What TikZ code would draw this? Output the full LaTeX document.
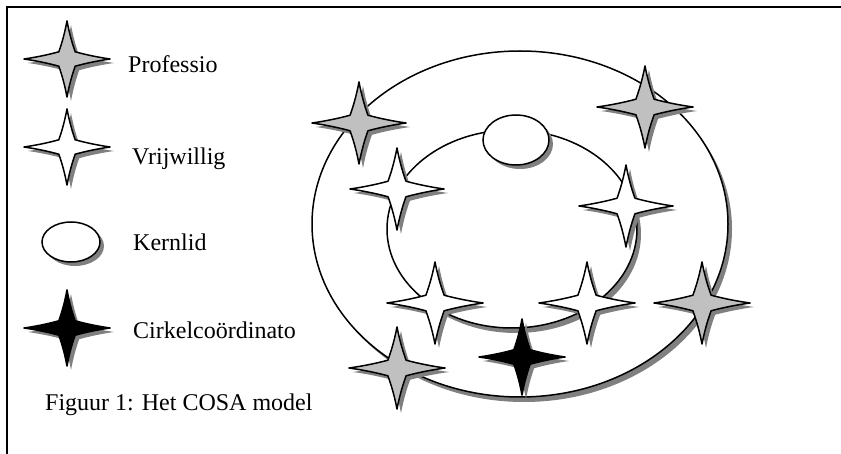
\documentclass[tikz,border=0pt]{standalone}
\usepackage{fontspec}
\setmainfont{Liberation Serif}
\definecolor{shadowgray}{RGB}{128,128,128}
\definecolor{profgray}{RGB}{192,192,192}
\newcommand\fourstar[5]{%
  \fill[shadowgray] \starpath{#1+4}{#2+4}{#3}{#4};
  \filldraw[starline,fill=#5] \starpath{#1}{#2}{#3}{#4};
}
\newcommand\starpath[4]{%
  ({#1},{#2-#4})
  .. controls ({#1+0.045*#3},{#2-0.73*#4}) and ({#1+0.105*#3},{#2-0.46*#4}) .. ({#1+0.19*#3},{#2-0.19*#4})
  .. controls ({#1+0.46*#3},{#2-0.105*#4}) and ({#1+0.73*#3},{#2-0.045*#4}) .. ({#1+#3},{#2})
  .. controls ({#1+0.73*#3},{#2+0.045*#4}) and ({#1+0.46*#3},{#2+0.105*#4}) .. ({#1+0.19*#3},{#2+0.19*#4})
  .. controls ({#1+0.105*#3},{#2+0.46*#4}) and ({#1+0.045*#3},{#2+0.73*#4}) .. ({#1},{#2+#4})
  .. controls ({#1-0.045*#3},{#2+0.73*#4}) and ({#1-0.105*#3},{#2+0.46*#4}) .. ({#1-0.19*#3},{#2+0.19*#4})
  .. controls ({#1-0.46*#3},{#2+0.105*#4}) and ({#1-0.73*#3},{#2+0.045*#4}) .. ({#1-#3},{#2})
  .. controls ({#1-0.73*#3},{#2-0.045*#4}) and ({#1-0.46*#3},{#2-0.105*#4}) .. ({#1-0.19*#3},{#2-0.19*#4})
  .. controls ({#1-0.105*#3},{#2-0.46*#4}) and ({#1-0.045*#3},{#2-0.73*#4}) .. cycle
}
\tikzset{
  starline/.style={draw=black,line width=1.5pt,line join=round},
  ringline/.style={draw=black,line width=1.5pt,fill=white},
  label/.style={anchor=base west,inner sep=0pt,font=\fontsize{24}{28}\selectfont}
}
\begin{document}
\begin{tikzpicture}[x=1pt,y=-1pt]
\useasboundingbox (0,0) rectangle (841,454);
\fill[white] (0,0) rectangle (841,454);
% frame
\draw[line width=2pt] (7,454) -- (7,7) -- (841,7);
% outer ring
\fill[shadowgray] (524,229) ellipse [x radius=208pt, y radius=173pt];
\path[ringline] (520,224) ellipse [x radius=208pt, y radius=173pt];
% inner ring
\fill[shadowgray] (516,234) ellipse [x radius=125pt, y radius=99pt];
\path[ringline] (512,229) ellipse [x radius=125pt, y radius=99pt];
% core member oval
\fill[shadowgray] (520,144) ellipse [x radius=33pt, y radius=25pt];
\path[ringline] (516,140) ellipse [x radius=33pt, y radius=25pt];
% stars in the model
\fourstar{359}{123}{47}{41}{profgray}
\fourstar{645}{107}{48}{41}{profgray}
\fourstar{397}{189}{47}{41}{white}
\fourstar{626}{206}{47}{41}{white}
\fourstar{435}{303}{48}{41}{white}
\fourstar{587}{303}{48}{41}{white}
\fourstar{702}{303}{48}{41}{profgray}
\fourstar{397}{368}{48}{41}{profgray}
\fourstar{522}{357}{43}{38}{black}
% legend
\fourstar{67}{59}{43}{38}{profgray}
\fourstar{67}{147}{43}{38}{white}
\fill[shadowgray] (75,246) ellipse [x radius=29pt, y radius=20pt];
\path[ringline] (71,242) ellipse [x radius=29pt, y radius=20pt];
\fourstar{67}{328}{43}{38}{black}
\node[label] (prof) at (128,73) {Professio};
\node[label] (vrij) at (132,165) {Vrijwillig};
\node[label] (kern) at (133,251) {Kernlid};
\node[label] (cirk) at (133,339) {Cirkelcoördinato};
\node[label] (cap) at (45,410) {Figuur 1: Het COSA model};
\end{tikzpicture}
\end{document}
